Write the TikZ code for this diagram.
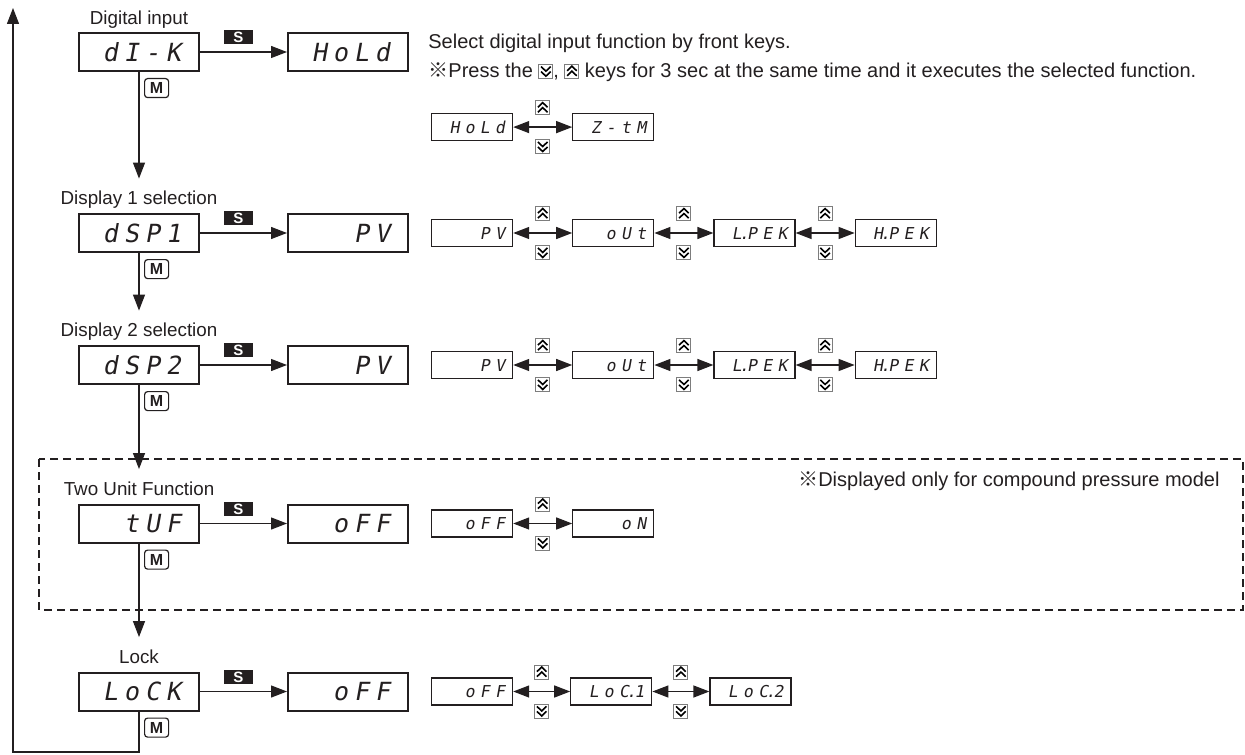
\documentclass[tikz,border=0pt]{standalone}
\usepackage{fontspec}
\setmainfont{Liberation Sans}
\newfontfamily\segfont[FakeSlant=0.18]{DejaVu Sans Mono}
\newfontfamily\cjk{Noto Sans CJK JP}
\usetikzlibrary{positioning,arrows.meta}
\definecolor{ink}{RGB}{35,31,32}
\definecolor{keygray}{RGB}{125,125,125}

% segment display text: one fixed cell per character
\makeatletter
\newlength{\segw}
\def\seg@dot{.}
\newcommand{\seg}[1]{\@tfor\seg@c:=#1\do{\ifx\seg@c\seg@dot\llap{.\kern-2.3pt}\else\makebox[\segw][c]{\seg@c}\fi}}
\makeatother
\newcommand{\segbig}{\segfont\fontsize{12.5}{13}\selectfont\setlength{\segw}{10.5pt}}
\newcommand{\segsmall}{\segfont\fontsize{8.2}{9}\selectfont\setlength{\segw}{7.6pt}}

% up / down keys
\newcommand{\upkey}{\tikz[baseline=-3.4pt,x=1pt,y=1pt]{%
  \draw[-,solid,draw=keygray,fill=white,line width=0.45pt] (-3.5,-3.5) rectangle (3.5,3.5);
  \draw[-,solid,draw=black,line width=0.8pt] (-2.4,0.2) -- (0,2.5) -- (2.4,0.2) (-2.4,-2.3) -- (0,0) -- (2.4,-2.3);}}
\newcommand{\dnkey}{\tikz[baseline=-3.4pt,x=1pt,y=1pt]{%
  \draw[-,solid,draw=keygray,fill=white,line width=0.45pt] (-3.5,-3.5) rectangle (3.5,3.5);
  \draw[-,solid,draw=black,line width=0.8pt] (-2.4,-0.2) -- (0,-2.5) -- (2.4,-0.2) (-2.4,2.3) -- (0,0) -- (2.4,2.3);}}

\begin{document}
\begin{tikzpicture}[>={Triangle[length=8pt,width=6pt]},
  mainbox/.style={draw=ink, line width=1pt, minimum width=60pt, minimum height=19pt, text width=45pt, inner xsep=7.5pt, inner ysep=0pt, text height=9.2pt, text depth=0pt, align=right, text=ink, font=\segbig},
  smallbox/.style={draw=ink, line width=0.6pt, minimum width=40.5pt, minimum height=13.5pt, text width=35.6pt, inner xsep=2.45pt, inner ysep=0pt, text height=6pt, text depth=0pt, align=right, text=ink, font=\segsmall},
  lbl/.style={inner sep=0pt, text depth=0pt, text=ink, font=\fontsize{9.4}{11}\selectfont},
  note/.style={inner sep=0pt, text=ink, font=\fontsize{10}{12}\selectfont},
  skey/.style={fill=ink, text=white, minimum width=14.5pt, minimum height=7pt, inner sep=0pt, font=\fontsize{7.5}{7}\selectfont\bfseries},
  mkey/.style={draw=ink, line width=0.6pt, rounded corners=1.5pt, minimum width=12pt, minimum height=9.5pt, inner sep=0pt, text=ink, font=\fontsize{8}{8}\selectfont\bfseries},
  flow/.style={->, draw=ink, line width=0.65pt},
  dflow/.style={<->, draw=ink, line width=0.65pt},
  upk/.style={above=5.8pt, inner sep=0pt},
  dnk/.style={below=5.8pt, inner sep=0pt}]
\useasboundingbox (0,0) rectangle (622.5pt,-377pt);

% Digital input
\node[mainbox] (dik) at (69.5pt,-26pt) {\seg{dI-K}};
\node[mainbox, right=43.5pt of dik] (hold) {\seg{HoLd}};
\node[lbl, above=3.5pt of dik] (lbl1) {Digital input};
\node[mkey, below right=3pt and 2.5pt of dik.south] (m1) {M};
\draw[flow] (dik) -- node[skey, pos=0.44, above=3.5pt] (s1) {S} (hold);
\node[note, anchor=base west] (note1) at (214pt,-24.5pt) {Select digital input function by front keys.};
\node[note, anchor=base west] (note2) at (214pt,-39pt) {{\cjk ※}Press the \dnkey, \upkey\ keys for 3 sec at the same time and it executes the selected function.};
\node[smallbox, below right=20.5pt and 11pt of hold] (hd0) {\seg{HoLd}};
\node[smallbox, right=29.5pt of hd0] (ztm) {\seg{Z-tM}};
\draw[dflow] (hd0) -- node[upk] (u10) {\upkey} node[dnk] (d10) {\dnkey} (ztm);

% Display 1
\node[mainbox, below=70.5pt of dik] (dsp1) {\seg{dSP1}};
\node[mainbox, right=43.5pt of dsp1] (pv1) {\seg{PV}};
\node[lbl, above=4pt of dsp1] (lbl2) {Display 1 selection};
\node[mkey, below right=3pt and 2.5pt of dsp1.south] (m2) {M};
\draw[flow] (dsp1) -- node[skey, pos=0.44, above=3.5pt] (s2) {S} (pv1);
\draw[flow, shorten >=6pt] (dik) -- (lbl2);
\node[smallbox, right=11pt of pv1] (pv1a) {\seg{PV}};
\node[smallbox, right=29.5pt of pv1a] (out1) {\seg{oUt}};
\node[smallbox, right=29.5pt of out1] (lpk1) {\seg{L.PEK}};
\node[smallbox, right=29.5pt of lpk1] (hpk1) {\seg{H.PEK}};
\draw[dflow] (pv1a) -- node[upk] (u21) {\upkey} node[dnk] (d21) {\dnkey} (out1);
\draw[dflow] (out1) -- node[upk] (u22) {\upkey} node[dnk] (d22) {\dnkey} (lpk1);
\draw[dflow] (lpk1) -- node[upk] (u23) {\upkey} node[dnk] (d23) {\dnkey} (hpk1);

% Display 2
\node[mainbox, below=46pt of dsp1] (dsp2) {\seg{dSP2}};
\node[mainbox, right=43.5pt of dsp2] (pv2) {\seg{PV}};
\node[lbl, above=4pt of dsp2] (lbl3) {Display 2 selection};
\node[mkey, below right=3pt and 2.5pt of dsp2.south] (m3) {M};
\draw[flow] (dsp2) -- node[skey, pos=0.44, above=3.5pt] (s3) {S} (pv2);
\draw[flow, shorten >=6pt] (dsp1) -- (lbl3);
\node[smallbox, right=11pt of pv2] (pv2a) {\seg{PV}};
\node[smallbox, right=29.5pt of pv2a] (out2) {\seg{oUt}};
\node[smallbox, right=29.5pt of out2] (lpk2) {\seg{L.PEK}};
\node[smallbox, right=29.5pt of lpk2] (hpk2) {\seg{H.PEK}};
\draw[dflow] (pv2a) -- node[upk] (u31) {\upkey} node[dnk] (d31) {\dnkey} (out2);
\draw[dflow] (out2) -- node[upk] (u32) {\upkey} node[dnk] (d32) {\dnkey} (lpk2);
\draw[dflow] (lpk2) -- node[upk] (u33) {\upkey} node[dnk] (d33) {\dnkey} (hpk2);

% Two unit function (compound pressure only)
\coordinate (fa) at (19.5pt,-229.5pt);
\coordinate (fb) at (621.5pt,-305pt);
\draw[ink, line width=0.6pt, dash pattern=on 4pt off 2.5pt] (fa) rectangle (fb);
\node[mainbox, below=59.25pt of dsp2] (tuf) {\seg{tUF}};
\node[mainbox, right=43.5pt of tuf] (off4) {\seg{oFF}};
\node[lbl, above=4pt of tuf] (lbl4) {Two Unit Function};
\node[mkey, below right=3pt and 2.5pt of tuf.south] (m4) {M};
\draw[flow] (tuf) -- node[skey, pos=0.44, above=3.5pt] (s4) {S} (off4);
\draw[flow, shorten >=6pt] (dsp2) -- (lbl4);
\node[note, anchor=base east] (note3) at (610pt,-243pt) {{\cjk ※}Displayed only for compound pressure model};
\node[smallbox, right=11pt of off4] (off4a) {\seg{oFF}};
\node[smallbox, right=29.5pt of off4a] (on4) {\seg{oN}};
\draw[dflow] (off4a) -- node[upk] (u41) {\upkey} node[dnk] (d41) {\dnkey} (on4);

% Lock
\node[mainbox, below=64pt of tuf] (lock) {\seg{LoCK}};
\node[mainbox, right=43.5pt of lock] (off5) {\seg{oFF}};
\node[lbl, above=4pt of lock] (lbl5) {Lock};
\node[mkey, below right=3pt and 2.5pt of lock.south] (m5) {M};
\draw[flow] (lock) -- node[skey, pos=0.44, above=3.5pt] (s5) {S} (off5);
\draw[flow, shorten >=6pt] (tuf) -- (lbl5);
\node[smallbox, right=11pt of off5] (off5a) {\seg{oFF}};
\node[smallbox, right=28.5pt of off5a] (loc1) {\seg{LoC.1}};
\node[smallbox, right=28.5pt of loc1] (loc2) {\seg{LoC.2}};
\draw[dflow] (off5a) -- node[upk] (u51) {\upkey} node[dnk] (d51) {\dnkey} (loc1);
\draw[dflow] (loc1) -- node[upk] (u52) {\upkey} node[dnk] (d52) {\dnkey} (loc2);

% back to top
\coordinate (bl) at (6.5pt,-376pt);
\coordinate (tl) at (6.5pt,-4pt);
\draw[flow] (lock) |- (bl) -- (tl);
\end{tikzpicture}
\end{document}
